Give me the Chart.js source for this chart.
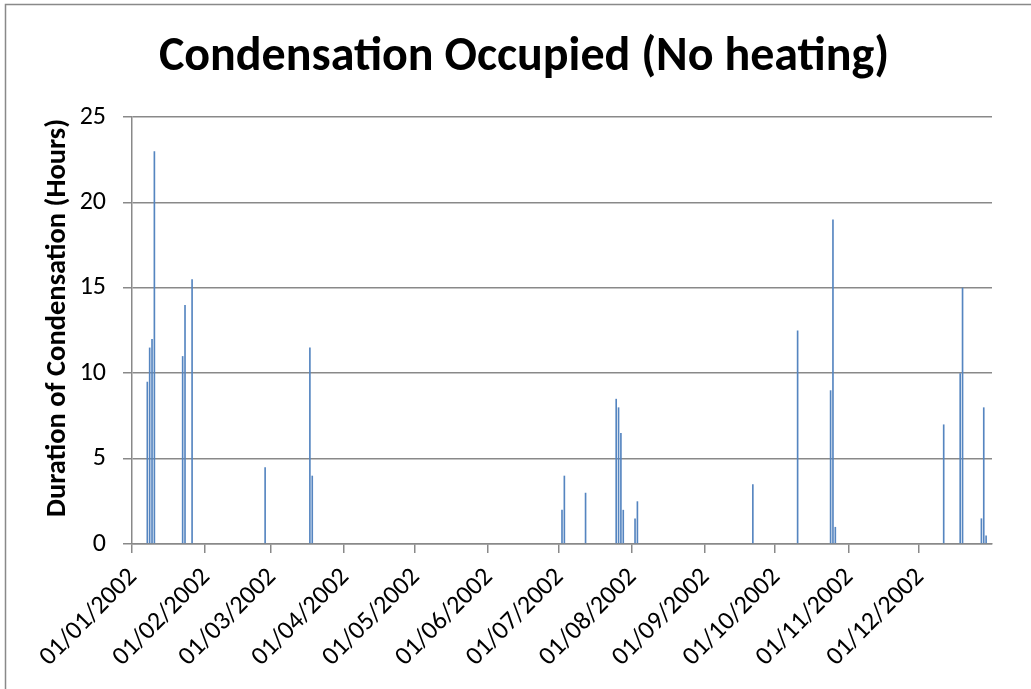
<!DOCTYPE html>
<html>
<head>
<meta charset="utf-8">
<script src="https://cdn.jsdelivr.net/npm/chart.js@4/dist/chart.umd.min.js"></script>
<style>
  html, body { margin: 0; padding: 0; background: #fff; }
  #wrap { width: 1031px; height: 689px; position: relative; }
</style>
</head>
<body>
<div id="wrap"><canvas id="condChart"></canvas></div>
<script>
// days with condensation (dd/mm/yyyy) and duration in hours
const eventDates = [
  '07/01/2002', '08/01/2002', '09/01/2002', '10/01/2002',
  '22/01/2002', '23/01/2002', '26/01/2002',
  '26/02/2002', '17/03/2002', '18/03/2002',
  '02/07/2002', '03/07/2002', '12/07/2002',
  '25/07/2002', '26/07/2002', '27/07/2002', '28/07/2002',
  '02/08/2002', '03/08/2002',
  '21/09/2002', '10/10/2002',
  '24/10/2002', '25/10/2002', '26/10/2002',
  '11/12/2002', '18/12/2002', '19/12/2002',
  '27/12/2002', '28/12/2002', '29/12/2002'
];
const eventHours = [
  9.5, 11.5, 12, 23,
  11, 14, 15.5,
  4.5, 11.5, 4,
  2, 4, 3,
  8.5, 8, 6.5, 2,
  1.5, 2.5,
  3.5, 12.5,
  9, 19, 1,
  7, 10, 15,
  1.5, 8, 0.5
];
const monthTicks = [
  '01/01/2002', '01/02/2002', '01/03/2002', '01/04/2002', '01/05/2002', '01/06/2002',
  '01/07/2002', '01/08/2002', '01/09/2002', '01/10/2002', '01/11/2002', '01/12/2002'
];
const yTicks = [0, 5, 10, 15, 20, 25];
const chartTitle = 'Condensation Occupied (No heating)';
const yTitle = 'Duration of Condensation (Hours)';

const axisGrey = '#898989';
const barBlue = '#5585C0';
const fontFamily = 'Carlito, Lato, "Open Sans", sans-serif';

// one category per day of 2002
function pad(n) { return (n < 10 ? '0' : '') + n; }
const labels = [];
const day = new Date(Date.UTC(2002, 0, 1));
while (day.getUTCFullYear() === 2002) {
    labels.push(pad(day.getUTCDate()) + '/' + pad(day.getUTCMonth() + 1) + '/2002');
    day.setUTCDate(day.getUTCDate() + 1);
}
const hours = labels.map(l => {
    const k = eventDates.indexOf(l);
    return k >= 0 ? eventHours[k] : 0;
});

// white background, the outer frame and both titles
const decor = {
    id: 'decor',
    beforeDraw(chart) {
        const c = chart.ctx;
        c.save();
        c.fillStyle = '#fff';
        c.fillRect(0, 0, chart.width, chart.height);
        c.strokeStyle = axisGrey;
        c.lineWidth = 1.5;
        c.strokeRect(5.5, 4.5, chart.width + 20, chart.height + 20);
        c.restore();
    },
    afterDraw(chart) {
        const c = chart.ctx;
        c.save();
        c.fillStyle = '#000';
        c.textAlign = 'center';
        c.textBaseline = 'middle';
        c.font = 'bold 48px ' + fontFamily;
        c.fillText(chartTitle, 524, 58);
        c.translate(58, 318);
        c.rotate(-Math.PI / 2);
        c.font = 'bold 28.5px ' + fontFamily;
        c.fillText(yTitle, 0, 0);
        c.restore();
    }
};

const ctx = document.getElementById('condChart').getContext('2d');
const condChart = new Chart(ctx, {
    type: 'bar',
    data: {
        labels: labels,
        datasets: [{
            label: 'Condensation',
            data: hours,
            backgroundColor: barBlue,
            borderWidth: 0,
            barPercentage: 1,
            categoryPercentage: 0.7
        }]
    },
    plugins: [decor],
    options: {
        responsive: true,
        maintainAspectRatio: false,
        animation: false,
        layout: { padding: { left: 0, right: 39, top: 117, bottom: 0 } },
        plugins: {
            legend: { display: false },
            tooltip: { enabled: false },
            title: { display: false }
        },
        scales: {
            x: {
                ticks: {
                    autoSkip: false,
                    minRotation: 45,
                    maxRotation: 45,
                    padding: 9,
                    color: '#000',
                    font: { family: fontFamily, size: 26 },
                    callback: function (val) {
                        const l = this.getLabelForValue(val);
                        return monthTicks.includes(l) ? l : '';
                    }
                },
                grid: {
                    drawOnChartArea: false,
                    tickLength: 9,
                    lineWidth: 1.5,
                    color: c => (c.index >= labels.length || monthTicks.includes(labels[c.index])) ? axisGrey : 'rgba(0,0,0,0)'
                },
                border: { color: axisGrey, width: 1.5 },
                afterFit: s => { s.height = 689 - 544; }
            },
            y: {
                min: 0,
                max: 25,
                afterBuildTicks: s => { s.ticks = yTicks.map(v => ({ value: v })); },
                ticks: {
                    padding: 17,
                    color: '#000',
                    font: { family: fontFamily, size: 26 }
                },
                grid: { color: axisGrey, lineWidth: 1.5, tickLength: 9 },
                border: { color: axisGrey, width: 1.5 },
                afterFit: s => { s.width = 132; }
            }
        }
    }
});
</script>
</body>
</html>
